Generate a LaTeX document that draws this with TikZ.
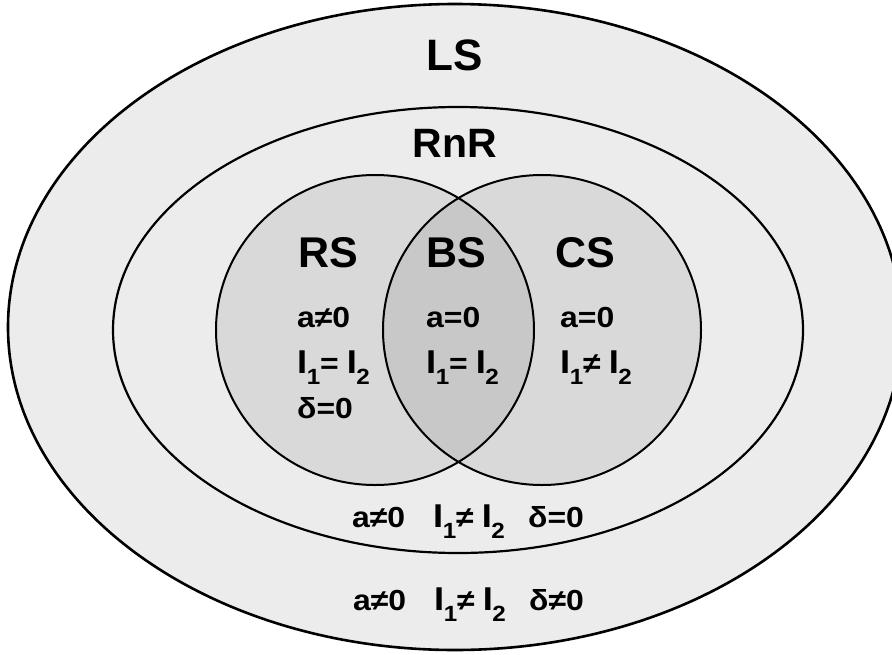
\documentclass[tikz,border=0pt]{standalone}
\usepackage{fontspec}
\setmainfont{Liberation Sans}
\newfontfamily\condfont{Liberation Sans}[FakeStretch=1.1]

\definecolor{ringfill}{HTML}{ECECEC}
\definecolor{setfill}{HTML}{D9D9D9}
\definecolor{bothfill}{HTML}{C8C8C8}

\tikzset{
  settitle/.style={font=\bfseries\fontsize{43}{43}\selectfont, anchor=base, inner sep=0pt},
  cond/.style={font=\condfont\bfseries\fontsize{29}{29}\selectfont, anchor=base west, inner sep=0pt},
}
\newcommand{\Isub}[1]{{\fontsize{33}{33}\selectfont I}\kern-0.5pt\raisebox{-11pt}{\fontsize{22}{22}\selectfont #1}}
\newcommand{\Ipair}[1]{\Isub{1}#1\hspace{8pt}\Isub{2}}

\begin{document}
\begin{tikzpicture}[x=1pt,y=-1pt]
\clip (0,0) rectangle (892,654);
% outer and inner regions
\filldraw[fill=ringfill, line width=2.6pt] (455,327) ellipse [x radius=447, y radius=323];
\filldraw[fill=ringfill, line width=2.2pt] (458,330) ellipse [x radius=345, y radius=223];
% the two sets
\fill[setfill] (375,330) ellipse [x radius=159, y radius=155];
\fill[setfill] (542,330) ellipse [x radius=159, y radius=155];
\begin{scope}
\clip (375,330) ellipse [x radius=159, y radius=155];
\fill[bothfill] (542,330) ellipse [x radius=159, y radius=155];
\end{scope}
\draw[line width=2pt] (375,330) ellipse [x radius=159, y radius=155];
\draw[line width=2pt] (542,330) ellipse [x radius=159, y radius=155];
% titles
\node[settitle, font=\bfseries\fontsize{44}{44}\selectfont] (ls) at (455,70) {LS};
\node[settitle, font=\bfseries\fontsize{41}{41}\selectfont] (rnr) at (455,157) {RnR};
\node[settitle] (rs) at (328,267) {RS};
\node[settitle] (bs) at (456,267) {BS};
\node[settitle] (cs) at (585,267) {CS};
% conditions inside the sets
\node[cond] (rsA) at (297,327) {a≠0};
\node[cond] (rsI) at (297,373) {\Ipair{=}};
\node[cond] (rsD) at (297,418) {δ=0};
\node[cond] (bsA) at (426,327) {a=0};
\node[cond] (bsI) at (426,373) {\Ipair{=}};
\node[cond] (csA) at (560,327) {a=0};
\node[cond] (csI) at (560,373) {\Ipair{≠}};
% conditions in the rings
\node[cond] (rnrA) at (352,527) {a≠0};
\node[cond] (rnrI) at (433,527) {\Ipair{≠}};
\node[cond] (rnrD) at (528,527) {δ=0};
\node[cond] (lsA) at (353,610) {a≠0};
\node[cond] (lsI) at (434,610) {\Ipair{≠}};
\node[cond] (lsD) at (529,610) {δ≠0};
\end{tikzpicture}
\end{document}
